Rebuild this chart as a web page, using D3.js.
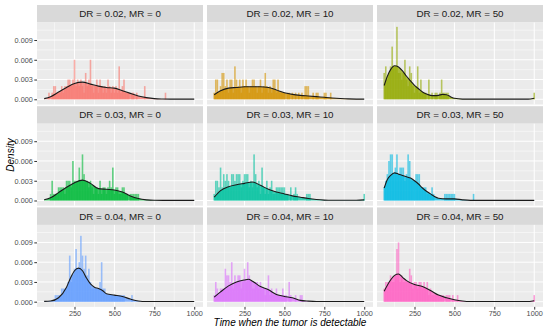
<!DOCTYPE html>
<html>
<head>
<meta charset="utf-8">
<script src="https://cdn.jsdelivr.net/npm/d3@7"></script>
<style>
  body { margin: 0; background: #fff; }
  text { font-family: "Liberation Sans", Arial, sans-serif; }
</style>
</head>
<body>
<script>
// facet levels
var drLevels = ["0.02", "0.03", "0.04"];
var mrLevels = ["0", "10", "50"];
var fillColors = ["#F8766D", "#D39200", "#93AA00", "#00BA38", "#00C19F", "#00B9E3", "#619CFF", "#DB72FB", "#FF61C3"];

var xTicks = [250, 500, 750, 1000];
var xMinor = [125, 375, 625, 875];
var yTicks = [0, 0.003, 0.006, 0.009];
var yMinor = [0.0015, 0.0045, 0.0075, 0.0105];

var binWidth = 10, sampleSize = 100;

// histogram counts: [bin centre, count]
var hist_02_0 = [[90,1],[110,1],[120,2],[130,2],[140,1],[150,1],[160,1],[170,2],[180,1],[190,2],[200,2],[210,3],[220,3],[230,2],[240,3],[250,6],[260,2],[270,3],[280,2],[290,3],[300,2],[310,1],[320,4],[330,2],[340,3],[350,6],[360,2],[370,1],[380,2],[390,3],[400,1],[410,3],[420,2],[430,1],[440,2],[450,1],[460,3],[470,2],[480,1],[490,2],[500,1],[510,2],[520,1],[530,5],[540,1],[550,2],[560,3],[570,1],[580,1],[590,1],[610,1],[620,1],[640,1],[690,2],[820,1]];
var hist_02_10 = [[60,1],[70,3],[80,3],[90,1],[100,2],[110,4],[120,4],[130,2],[140,3],[150,1],[160,3],[170,3],[180,1],[190,5],[200,3],[210,2],[220,3],[230,1],[240,3],[250,2],[260,3],[270,2],[280,1],[290,2],[300,3],[310,3],[320,2],[330,1],[340,2],[350,3],[360,1],[370,2],[380,4],[390,2],[400,1],[410,2],[420,1],[430,3],[440,3],[450,1],[460,3],[470,1],[480,1],[490,1],[500,1],[520,1],[530,1],[550,1],[570,1],[590,1],[610,1],[630,2],[640,2],[650,2],[680,1],[700,1],[710,1],[750,1],[760,1],[790,1]];
var hist_02_50 = [[60,4],[70,5],[80,3],[90,4],[100,5],[110,8],[120,5],[130,5],[140,11],[150,4],[160,4],[170,3],[180,4],[190,6],[200,3],[210,2],[220,5],[230,4],[240,2],[250,1],[260,2],[270,5],[280,1],[290,3],[300,1],[310,1],[320,1],[340,3],[360,1],[380,1],[390,1],[410,1],[420,3],[430,1],[440,1],[450,1],[460,1],[1000,1]];
var hist_03_0 = [[100,1],[110,3],[120,1],[130,1],[140,1],[150,2],[160,2],[170,2],[180,2],[190,1],[200,3],[210,3],[220,3],[230,2],[240,6],[250,3],[260,3],[270,3],[280,5],[290,3],[300,7],[310,4],[320,3],[330,3],[340,2],[350,3],[360,2],[370,1],[380,2],[390,2],[400,1],[410,3],[420,1],[430,2],[440,2],[450,1],[460,2],[470,3],[480,2],[490,5],[500,1],[510,2],[520,2],[530,1],[540,1],[550,2],[560,2],[570,1],[580,1],[600,1],[610,1],[620,1],[630,1],[640,1],[650,1]];
var hist_03_10 = [[60,1],[70,3],[80,3],[90,2],[100,5],[110,2],[120,4],[130,3],[140,4],[150,3],[160,2],[170,4],[180,4],[190,3],[200,4],[210,4],[220,4],[230,2],[240,3],[250,4],[260,4],[270,4],[280,2],[290,3],[300,2],[310,7],[320,4],[330,2],[340,3],[350,1],[360,5],[370,2],[380,1],[390,3],[400,1],[410,2],[420,3],[430,1],[440,1],[450,2],[460,2],[470,2],[480,2],[490,2],[500,2],[510,1],[520,1],[540,2],[560,1],[570,2],[580,1],[640,1],[650,1],[660,1],[1000,1]];
var hist_03_50 = [[60,2],[70,3],[80,4],[90,6],[100,7],[110,7],[120,4],[130,5],[140,7],[150,4],[160,5],[170,5],[180,5],[190,3],[200,4],[210,7],[220,6],[230,3],[240,3],[250,3],[260,4],[270,4],[280,4],[290,2],[300,2],[310,2],[320,2],[330,1],[340,1],[350,1],[360,2],[370,1],[440,1],[450,1],[460,1],[470,1],[480,1],[490,1],[500,1],[620,1]];
var hist_04_0 = [[130,1],[140,1],[150,1],[160,1],[170,2],[180,2],[190,2],[200,2],[210,3],[220,7],[230,3],[240,4],[250,5],[260,8],[270,5],[280,6],[290,10],[300,7],[310,5],[320,7],[330,4],[340,5],[350,3],[360,2],[370,2],[380,2],[390,2],[400,2],[410,3],[420,6],[430,2],[440,2],[450,1],[460,1],[470,1],[480,1],[490,1],[500,1],[510,1],[520,1],[530,1],[540,1],[550,1],[560,1],[610,1]];
var hist_04_10 = [[60,1],[70,3],[80,2],[90,1],[100,2],[110,2],[120,2],[130,5],[140,4],[150,4],[160,3],[170,6],[180,2],[190,4],[200,3],[210,4],[220,4],[230,2],[240,3],[250,5],[260,3],[270,6],[280,4],[290,3],[300,2],[310,2],[320,3],[330,3],[340,2],[350,3],[360,2],[370,2],[380,1],[390,2],[400,4],[410,1],[420,2],[430,1],[440,1],[450,2],[460,1],[470,1],[480,1],[490,2],[500,1],[510,1],[530,3],[540,1],[570,1],[600,1],[610,1]];
var hist_04_50 = [[60,2],[70,3],[80,3],[90,3],[100,4],[110,3],[120,3],[130,4],[140,8],[150,9],[160,3],[170,4],[180,3],[190,3],[200,3],[210,3],[220,5],[230,4],[240,2],[250,3],[260,3],[270,2],[280,3],[290,3],[300,2],[310,3],[320,2],[330,3],[340,1],[350,2],[360,1],[370,1],[380,1],[390,1],[400,1],[410,1],[420,1],[430,1],[450,1],[460,1],[470,1],[490,1],[520,1],[1000,1]];

// density curves: [time, density]
var dens_02_0 = [[60,0.0001],[100,0.0004],[150,0.0011],[200,0.0018],[250,0.0024],[300,0.0026],[350,0.0023],[400,0.0020],[450,0.0018],[500,0.0017],[550,0.0013],[600,0.0009],[650,0.0005],[700,0.00025],[750,0.0001],[800,0.00005],[900,0.00002],[1000,0.00002]];
var dens_02_10 = [[60,0.0007],[100,0.0013],[150,0.0017],[200,0.0018],[250,0.0019],[300,0.0019],[350,0.0019],[400,0.0018],[450,0.0014],[500,0.0010],[550,0.00075],[600,0.0006],[650,0.0005],[700,0.0004],[750,0.0003],[800,0.0002],[850,0.00012],[900,0.00006],[950,0.00003],[1000,0.00002]];
var dens_02_50 = [[60,0.0021],[80,0.0035],[100,0.0045],[125,0.0051],[150,0.0049],[175,0.0043],[200,0.0035],[225,0.0028],[250,0.0021],[275,0.0016],[300,0.0011],[325,0.0008],[350,0.0006],[375,0.00055],[400,0.0006],[425,0.00075],[450,0.0007],[475,0.0004],[500,0.00015],[550,0.00003],[700,0.00002],[950,0.00002],[975,0.00005],[1000,0.00015]];
var dens_03_0 = [[60,0.0001],[100,0.0004],[150,0.0012],[200,0.0020],[250,0.0027],[300,0.0031],[350,0.0026],[400,0.0018],[450,0.0017],[500,0.0016],[550,0.0013],[600,0.0007],[650,0.0003],[700,0.0001],[750,0.00003],[850,0.00002],[1000,0.00002]];
var dens_03_10 = [[60,0.0005],[100,0.0015],[150,0.0021],[200,0.0024],[250,0.0026],[300,0.0028],[350,0.0023],[400,0.0017],[450,0.0013],[500,0.0010],[550,0.0007],[600,0.0005],[650,0.0003],[700,0.00015],[750,0.00006],[800,0.00003],[950,0.00003],[1000,0.0001]];
var dens_03_50 = [[60,0.0019],[80,0.0032],[100,0.0038],[125,0.0042],[150,0.0040],[175,0.0038],[200,0.0036],[225,0.0034],[250,0.0030],[275,0.0025],[300,0.0019],[325,0.0014],[350,0.0010],[375,0.0006],[400,0.00035],[450,0.00025],[500,0.00025],[550,0.0001],[600,0.00002],[1000,0.00002]];
var dens_04_0 = [[60,0.00005],[100,0.0001],[150,0.0006],[200,0.0022],[225,0.0036],[250,0.0047],[275,0.0051],[300,0.0047],[325,0.0036],[350,0.0027],[375,0.0022],[400,0.0020],[425,0.0017],[450,0.0012],[500,0.0010],[550,0.0008],[600,0.0004],[650,0.0001],[700,0.00002],[1000,0.00002]];
var dens_04_10 = [[60,0.0007],[100,0.0015],[150,0.0024],[200,0.0030],[250,0.0033],[275,0.0034],[300,0.0031],[350,0.0023],[400,0.0018],[450,0.0011],[500,0.0008],[550,0.0006],[600,0.0002],[650,0.00008],[700,0.00002],[1000,0.00002]];
var dens_04_50 = [[60,0.0016],[100,0.0033],[125,0.0040],[150,0.0042],[175,0.0037],[200,0.0032],[250,0.0026],[300,0.0023],[350,0.0017],[400,0.0010],[450,0.0006],[500,0.0003],[550,0.0001],[600,0.00002],[950,0.00002],[1000,0.00015]];

var histograms = [hist_02_0, hist_02_10, hist_02_50, hist_03_0, hist_03_10, hist_03_50, hist_04_0, hist_04_10, hist_04_50];
var densities = [dens_02_0, dens_02_10, dens_02_50, dens_03_0, dens_03_10, dens_03_50, dens_04_0, dens_04_10, dens_04_50];

// layout
var left = 37, top0 = 5;
var panelW = 166, colGap = 4, stripH = 17.5, panelH = 82, rowPitch = 101.2;

var svg = d3.select("body")
  .append("svg")
    .attr("width", 550)
    .attr("height", 333);

var x = d3.scaleLinear().domain([15, 1055]).range([0, panelW]);
var y = d3.scaleLinear().domain([-0.00079, 0.01166]).range([panelH, 0]);

var area = d3.area()
  .x(function(d) { return x(d[0]); })
  .y0(y(0))
  .y1(function(d) { return y(d[1]); })
  .curve(d3.curveMonotoneX);
var line = d3.line()
  .x(function(d) { return x(d[0]); })
  .y(function(d) { return y(d[1]); })
  .curve(d3.curveMonotoneX);

for (var i = 0; i < 9; i++) {
  var col = i % 3, row = Math.floor(i / 3);
  var g = svg.append("g")
    .attr("transform", "translate(" + (left + col * (panelW + colGap)) + "," + (top0 + row * rowPitch) + ")");

  // strip
  g.append("rect")
    .attr("width", panelW).attr("height", stripH)
    .attr("fill", "#d9d9d9");
  g.append("text")
    .attr("x", panelW / 2).attr("y", stripH / 2)
    .attr("dy", "0.36em")
    .attr("text-anchor", "middle")
    .attr("font-size", 9.8)
    .attr("fill", "#1a1a1a")
    .text("DR = " + drLevels[row] + ", MR = " + mrLevels[col]);

  var p = g.append("g").attr("transform", "translate(0," + stripH + ")");
  p.append("rect")
    .attr("width", panelW).attr("height", panelH)
    .attr("fill", "#ebebeb");

  // grid
  p.selectAll(".xm").data(xMinor).enter().append("line")
    .attr("x1", x).attr("x2", x).attr("y1", 0).attr("y2", panelH)
    .attr("stroke", "#fff").attr("stroke-width", 0.5);
  p.selectAll(".ym").data(yMinor).enter().append("line")
    .attr("y1", y).attr("y2", y).attr("x1", 0).attr("x2", panelW)
    .attr("stroke", "#fff").attr("stroke-width", 0.5);
  p.selectAll(".xg").data(xTicks).enter().append("line")
    .attr("x1", x).attr("x2", x).attr("y1", 0).attr("y2", panelH)
    .attr("stroke", "#fff").attr("stroke-width", 1);
  p.selectAll(".yg").data(yTicks).enter().append("line")
    .attr("y1", y).attr("y2", y).attr("x1", 0).attr("x2", panelW)
    .attr("stroke", "#fff").attr("stroke-width", 1);

  // histogram bars
  p.selectAll(".bar").data(histograms[i]).enter().append("rect")
    .attr("x", function(d) { return x(d[0] - binWidth / 2); })
    .attr("width", function(d) { return x(d[0] + binWidth / 2) - x(d[0] - binWidth / 2); })
    .attr("y", function(d) { return y(d[1] / (sampleSize * binWidth)); })
    .attr("height", function(d) { return y(0) - y(d[1] / (sampleSize * binWidth)); })
    .attr("fill", fillColors[i])
    .attr("fill-opacity", 0.6);

  // density fill
  p.append("path")
    .datum(densities[i])
    .attr("d", area)
    .attr("fill", fillColors[i])
    .attr("fill-opacity", 0.75);

  // density line
  p.append("path")
    .datum(densities[i])
    .attr("d", line)
    .attr("fill", "none")
    .attr("stroke", "#1a1a1a")
    .attr("stroke-width", 1.1);

  // y axis on first column
  if (col === 0) {
    var ya = p.append("g")
      .call(d3.axisLeft(y).tickValues(yTicks).tickFormat(d3.format(".3f")).tickSize(2.7).tickPadding(1.5));
    ya.select(".domain").remove();
    ya.selectAll("line").attr("stroke", "#333");
    ya.selectAll("text")
      .attr("font-size", 7.3)
      .style("fill", "#4d4d4d")
      .style("font-family", "'Liberation Sans', Arial, sans-serif");
  }
  // x axis on last row
  if (row === 2) {
    var xa = p.append("g")
      .attr("transform", "translate(0," + panelH + ")")
      .call(d3.axisBottom(x).tickValues(xTicks).tickFormat(d3.format("d")).tickSize(2.7).tickPadding(1.5));
    xa.select(".domain").remove();
    xa.selectAll("line").attr("stroke", "#333");
    xa.selectAll("text")
      .attr("font-size", 7.3)
      .style("fill", "#4d4d4d")
      .style("font-family", "'Liberation Sans', Arial, sans-serif");
  }
}

// axis titles
svg.append("text")
  .attr("x", left + (3 * panelW + 2 * colGap) / 2)
  .attr("y", 326)
  .attr("text-anchor", "middle")
  .attr("font-size", 10)
  .attr("font-style", "italic")
  .attr("fill", "#000")
  .text("Time when the tumor is detectable");

svg.append("text")
  .attr("transform", "translate(14," + 155 + ")rotate(-90)")
  .attr("text-anchor", "middle")
  .attr("font-size", 10)
  .attr("font-style", "italic")
  .attr("fill", "#000")
  .text("Density");
</script>
</body>
</html>
